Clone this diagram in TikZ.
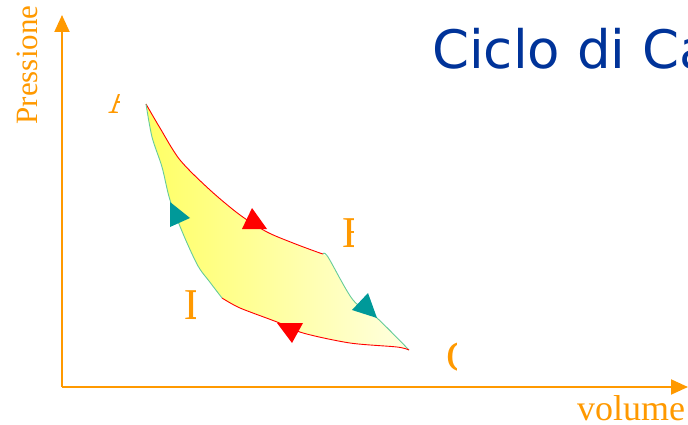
\documentclass[tikz,border=0pt]{standalone}
\usepackage{fontspec}
\setmainfont{Liberation Serif}
\newfontfamily\titlefont{DejaVu Sans}
\usetikzlibrary{arrows.meta}
\definecolor{axisorange}{RGB}{255,153,0}
\definecolor{titleblue}{RGB}{0,51,153}
\definecolor{tealmark}{RGB}{0,153,153}
\definecolor{adiabgreen}{RGB}{102,204,153}
\definecolor{fillleft}{RGB}{255,255,100}
\definecolor{fillright}{RGB}{255,255,225}
\newcommand{\trimark}[4]{% filled direction mark, colour #1, corners #2 #3 #4
  \fill[#1] (#2) -- (#3) -- (#4) -- cycle;
}
\newcommand{\cutlabel}[3]{% letter #3 at (#1), only left of x=#2 shown
  \begin{scope}
    \clip (0,0) rectangle (#2,425);
    \node[statelabel] (lbl#3) at (#1) {#3};
  \end{scope}
}

\begin{document}
\begin{tikzpicture}[x=1pt,y=-1pt,
  axis/.style={draw=axisorange, line width=2pt, -{Triangle[length=17pt,width=15pt]}},
  statelabel/.style={anchor=base west, text=axisorange, font=\fontsize{44}{44}\selectfont, inner sep=0pt},
  isoterma/.style={draw=red, line width=0.9pt},
  adiabatica/.style={draw=adiabgreen, line width=0.9pt}]
  \useasboundingbox (0,0) rectangle (688,425);
  \clip (0,0) rectangle (688,425);
  % axes
  \coordinate (O) at (62,387);
  \coordinate (ytip) at (62,15);
  \coordinate (xtip) at (688,387);
  \draw[axis] (O) -- (ytip);
  \draw[axis] (O) -- (xtip);
  \node[rotate=90, anchor=base, text=axisorange, inner sep=0pt,
    font=\fontsize{31}{31}\selectfont] (ylab) at (37,65) {Pressione};
  \node[anchor=base west, text=axisorange, inner sep=0pt,
    font=\fontsize{36}{36}\selectfont] (xlab) at (577,420) {volume};
  \node[anchor=base west, text=titleblue, inner sep=0pt,
    font=\titlefont\fontsize{53}{53}\selectfont] (title) at (432,69) {Ciclo di Carnot};
  % cycle corners
  \coordinate (A) at (146,104);
  \coordinate (B) at (323,254);
  \coordinate (C) at (409,350);
  \coordinate (D) at (222,298);
  % yellow area
  \shade[left color=fillleft, right color=fillright]
    plot[smooth] coordinates {(A) (160,128) (180,160) (210,190) (240,215) (267,232) (293,243) (317,252) (B)}
    -- plot[smooth] coordinates {(328,257) (353,300) (377,318) (C)}
    -- plot[smooth] coordinates {(397,347) (350,343) (303,333) (277,322) (240,308) (D)}
    -- plot[smooth] coordinates {(209,281) (198,266) (184,236) (170,200) (162,167) (152,137) (A)}
    -- cycle;
  % isotherms and adiabats
  \draw[isoterma] plot[smooth] coordinates {(A) (160,128) (180,160) (210,190) (240,215) (267,232) (293,243) (317,252) (B)};
  \draw[adiabatica] plot[smooth] coordinates {(B) (328,257) (353,300) (377,318) (C)};
  \draw[isoterma] plot[smooth] coordinates {(C) (397,347) (350,343) (303,333) (277,322) (240,308) (D)};
  \draw[adiabatica] plot[smooth] coordinates {(D) (209,281) (198,266) (184,236) (170,200) (162,167) (152,137) (A)};
  % direction marks
  \trimark{tealmark}{170,202}{190,218}{170,227}
  \trimark{red}{242,229}{252,208}{267,229}
  \trimark{tealmark}{352,310}{368,293}{377,318}
  \trimark{red}{277,323}{303,323}{292,343}
  % corner letters, partly hidden
  \begin{scope}
    \clip (100,95) rectangle (119.5,125);
    \node[statelabel] (lblA) at (108,114) {A};
  \end{scope}
  \cutlabel{342,247}{353}{B}
  \cutlabel{446,371}{456}{C}
  \cutlabel{184,319}{195}{D}
\end{tikzpicture}
\end{document}
